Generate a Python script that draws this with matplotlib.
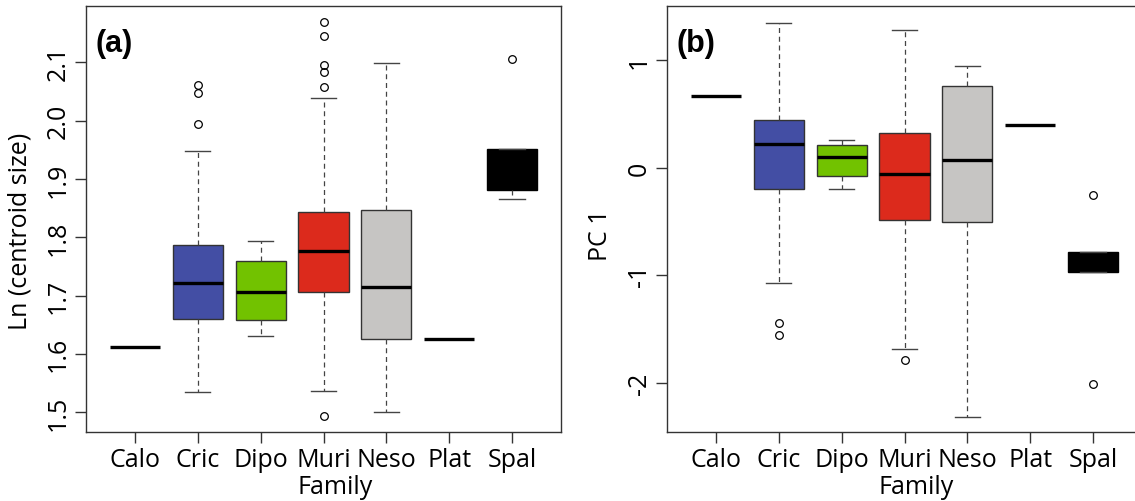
import matplotlib
matplotlib.use("Agg")
import matplotlib.pyplot as plt

families = ["Calo", "Cric", "Dipo", "Muri", "Neso", "Plat", "Spal"]
box_colors = ["#000000", "#434EA4", "#72C200", "#DC2A1C", "#C6C5C3", "#000000", "#000000"]

# Panel (a): Ln(centroid size) -- whisker low, Q1, median, Q3, whisker high
size_wlo = [1.611, 1.534, 1.631, 1.537, 1.500, 1.625, 1.866]
size_q1 = [1.611, 1.659, 1.658, 1.706, 1.626, 1.625, 1.881]
size_med = [1.611, 1.722, 1.706, 1.776, 1.714, 1.625, 1.913]
size_q3 = [1.611, 1.787, 1.759, 1.844, 1.847, 1.625, 1.952]
size_whi = [1.611, 1.948, 1.793, 2.038, 2.098, 1.625, 1.952]
size_out = [[], [2.061, 2.047, 1.994], [], [2.169, 2.145, 2.095, 2.084, 2.058, 1.493], [], [], [2.105]]

# Panel (b): PC 1
pc_wlo = [0.670, -1.074, -0.201, -1.682, -2.318, 0.398, -0.968]
pc_q1 = [0.670, -0.201, -0.077, -0.490, -0.509, 0.398, -0.968]
pc_med = [0.670, 0.223, 0.100, -0.059, 0.072, 0.398, -0.881]
pc_q3 = [0.670, 0.447, 0.208, 0.323, 0.761, 0.398, -0.788]
pc_whi = [0.670, 1.350, 0.255, 1.285, 0.950, 0.398, -0.788]
pc_out = [[], [-1.449, -1.558], [], [-1.791], [], [], [-0.251, -2.008]]

size_ticks = [1.5, 1.6, 1.7, 1.8, 1.9, 2.0, 2.1]
pc_ticks = [-2, -1, 0, 1]

FONT = "Open Sans"
W, H = 1135, 502
fig = plt.figure(figsize=(W / 100, H / 100), dpi=100)

def make_axes(left_px, right_px):
    return fig.add_axes([left_px / W, (H - 433) / H, (right_px - left_px) / W, (433 - 7) / H])

def draw_panel(ax, wlo, q1, med, q3, whi, out, ylim, yticks, ylabel, tag, xlab_x, ylab_xy):
    stats = []
    for i in range(len(families)):
        stats.append(dict(whislo=wlo[i], q1=q1[i], med=med[i], q3=q3[i], whishi=whi[i],
                          fliers=out[i], label=families[i]))
    positions = list(range(1, len(families) + 1))
    bp = ax.bxp(stats, positions=positions, widths=0.8, patch_artist=True, showfliers=True,
                boxprops=dict(edgecolor="#333333", linewidth=1.0),
                medianprops=dict(color="black", linewidth=2.4, solid_capstyle="butt"),
                whiskerprops=dict(color="#444444", linewidth=0.9, linestyle=(0, (4, 3))),
                capprops=dict(color="#444444", linewidth=1.0),
                capwidths=0.4,
                flierprops=dict(marker="o", markerfacecolor="none", markeredgecolor="black",
                                markersize=5.5, markeredgewidth=0.9, linestyle="none"))
    for i, patch in enumerate(bp["boxes"]):
        patch.set_facecolor(box_colors[i])
        if families[i] == "Spal":
            patch.set_edgecolor("black")
        if q1[i] == q3[i]:
            patch.set_linewidth(0)
    for i, cap in enumerate(bp["caps"]):
        fam = i // 2
        if wlo[fam] == q1[fam] and whi[fam] == q3[fam] and q1[fam] == q3[fam]:
            cap.set_visible(False)
    ax.set_xlim(0.22, 7.78)
    ax.set_ylim(*ylim)
    ax.set_xticks(positions)
    ax.set_xticklabels(families, fontsize=18, family=FONT)
    ax.set_yticks(yticks)
    ax.set_yticklabels([str(t) for t in yticks], fontsize=18, family=FONT, rotation=90, va="center")
    ax.tick_params(axis="both", direction="out", length=8, width=1.0, color="#333333", pad=3)
    for sp in ax.spines.values():
        sp.set_color("#333333")
        sp.set_linewidth(1.0)
    ax.set_xlabel("Family", fontsize=18, family=FONT)
    ax.xaxis.set_label_coords(xlab_x, -0.098)
    ax.set_ylabel(ylabel, fontsize=18, family=FONT)
    ax.yaxis.set_label_coords(ylab_xy[0], ylab_xy[1])
    ax.text(0.02, 0.913, tag, transform=ax.transAxes, fontsize=22, fontweight="bold",
            family="Liberation Sans", ha="left", va="center")

ax1 = make_axes(86, 561)
draw_panel(ax1, size_wlo, size_q1, size_med, size_q3, size_whi, size_out,
           (1.466, 2.1965), size_ticks, "Ln (centroid size)", "(a)", 0.524, (-0.112, 0.474))

ax2 = make_axes(667, 1142)
draw_panel(ax2, pc_wlo, pc_q1, pc_med, pc_q3, pc_whi, pc_out,
           (-2.459, 1.506), pc_ticks, "PC 1", "(b)", 0.524, (-0.114, 0.464))

fig.savefig("out.png", dpi=100)
